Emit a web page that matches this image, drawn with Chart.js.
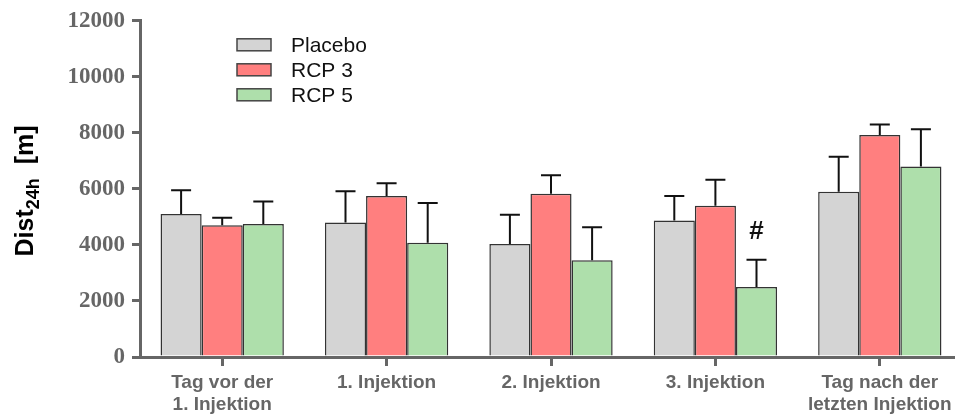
<!DOCTYPE html>
<html lang="de">

<head>
    <meta charset="UTF-8">
    <title>Dist24h</title>
    <script src="https://cdn.jsdelivr.net/npm/chart.js"></script>
    <style>
        body {
            margin: 0;
            overflow: hidden;
            background: #fff;
        }

        .campo_grafico {
            width: 962px;
            height: 419px;
        }
    </style>
</head>

<body>
    <div class="campo_grafico">
        <canvas id="grafico"></canvas>
    </div>

    <script>
        const categorias = [['Tag vor der', '1. Injektion'], '1. Injektion', '2. Injektion', '3. Injektion', ['Tag nach der', 'letzten Injektion']];
        const placebo = [5100, 4800, 4030, 4870, 5900];
        const placeboErro = [850, 1120, 1050, 880, 1250];
        const rcp3 = [4700, 5750, 5830, 5400, 7920];
        const rcp3Erro = [270, 450, 660, 930, 380];
        const rcp5 = [4750, 4080, 3450, 2500, 6800];
        const rcp5Erro = [800, 1420, 1180, 970, 1330];
        const rcp5Marcas = ['', '', '', '#', ''];
        const yMin = 0, yMax = 12000, yPasso = 2000;

        const cinza = '#666666';

        // barras de erro (so para cima) + marca "#"
        const errosPlugin = {
            id: 'erros',
            afterDatasetsDraw(chart) {
                const ctx = chart.ctx;
                const y = chart.scales.y;
                chart.data.datasets.forEach(function (ds, i) {
                    const meta = chart.getDatasetMeta(i);
                    meta.data.forEach(function (barra, j) {
                        const topo = y.getPixelForValue(ds.data[j] + ds.erros[j]);
                        ctx.save();
                        ctx.strokeStyle = '#111';
                        ctx.lineWidth = 2;
                        ctx.beginPath();
                        ctx.moveTo(barra.x, barra.y);
                        ctx.lineTo(barra.x, topo);
                        ctx.moveTo(barra.x - 10, topo);
                        ctx.lineTo(barra.x + 10, topo);
                        ctx.stroke();
                        if (ds.marcas && ds.marcas[j]) {
                            ctx.fillStyle = '#111';
                            ctx.font = 'bold 26px "Liberation Sans", Arial';
                            ctx.textAlign = 'center';
                            ctx.textBaseline = 'middle';
                            ctx.fillText(ds.marcas[j], barra.x, topo - 28);
                        }
                        ctx.restore();
                    });
                });
            }
        };

        // legenda e titulo do eixo y desenhados a mao
        const extrasPlugin = {
            id: 'extras',
            afterDraw(chart) {
                const ctx = chart.ctx;
                const area = chart.chartArea;
                ctx.save();
                chart.data.datasets.forEach(function (ds, i) {
                    const cy = area.top + 24 + i * 25;
                    const bx = area.left + 97;
                    ctx.fillStyle = ds.backgroundColor;
                    ctx.fillRect(bx, cy - 6, 34, 12);
                    ctx.strokeStyle = '#444';
                    ctx.lineWidth = 1.5;
                    ctx.strokeRect(bx, cy - 6, 34, 12);
                    ctx.fillStyle = '#111';
                    ctx.font = '21px "Liberation Sans", Arial';
                    ctx.textAlign = 'left';
                    ctx.textBaseline = 'middle';
                    ctx.fillText(ds.label, bx + 54, cy + 1);
                });

                // Dist_24h [m]
                ctx.translate(24, 191);
                ctx.rotate(-Math.PI / 2);
                ctx.fillStyle = '#000';
                ctx.textBaseline = 'alphabetic';
                ctx.textAlign = 'left';
                const fonteGrande = 'bold 25px "Liberation Sans", Arial';
                const fonteSub = 'bold 18px "Liberation Sans", Arial';
                ctx.font = fonteGrande;
                const w1 = ctx.measureText('Dist').width;
                const w3 = ctx.measureText('  [m]').width;
                ctx.font = fonteSub;
                const w2 = ctx.measureText('24h').width;
                let x = -(w1 + w2 + w3) / 2;
                ctx.font = fonteGrande;
                ctx.fillText('Dist', x, 9);
                x += w1;
                ctx.font = fonteSub;
                ctx.fillText('24h', x, 15);
                x += w2;
                ctx.font = fonteGrande;
                ctx.fillText('  [m]', x, 9);
                ctx.restore();
            }
        };

        const ctx = document.getElementById('grafico');

        new Chart(ctx, {
            type: 'bar',
            data: {
                labels: categorias,
                datasets: [
                    { label: 'Placebo', data: placebo, erros: placeboErro, backgroundColor: '#d4d4d4' },
                    { label: 'RCP 3', data: rcp3, erros: rcp3Erro, backgroundColor: '#ff7f7f' },
                    { label: 'RCP 5', data: rcp5, erros: rcp5Erro, marcas: rcp5Marcas, backgroundColor: '#aedfab' }
                ].map(function (d) {
                    d.borderColor = '#333333';
                    d.borderWidth = 1.5;
                    d.borderSkipped = 'bottom';
                    d.categoryPercentage = 0.75;
                    d.barPercentage = 1;
                    return d;
                })
            },
            options: {
                responsive: true,
                maintainAspectRatio: false,
                animation: false,
                layout: { padding: { top: 20, left: 0, right: 0, bottom: 0 } },
                plugins: {
                    legend: { display: false },
                    tooltip: { enabled: false }
                },
                scales: {
                    x: {
                        grid: {
                            display: true,
                            drawOnChartArea: false,
                            offset: false,
                            color: cinza,
                            lineWidth: 3,
                            tickLength: 9
                        },
                        border: { color: cinza, width: 3 },
                        ticks: {
                            color: cinza,
                            padding: 6,
                            maxRotation: 0,
                            autoSkip: false,
                            font: { family: '"Liberation Sans", Arial', weight: 'bold', size: 19, lineHeight: 1.15 }
                        },
                        afterFit(scale) { scale.height = 62; }
                    },
                    y: {
                        min: yMin,
                        max: yMax,
                        grid: {
                            display: true,
                            drawOnChartArea: false,
                            color: cinza,
                            lineWidth: 3,
                            tickLength: 8
                        },
                        border: { color: cinza, width: 3 },
                        ticks: {
                            stepSize: yPasso,
                            color: cinza,
                            padding: 7,
                            callback: function (valor) { return String(valor); },
                            font: { family: '"Liberation Serif", "Times New Roman", serif', weight: 'bold', size: 23 }
                        },
                        afterFit(scale) { scale.width = 140; }
                    }
                }
            },
            plugins: [errosPlugin, extrasPlugin]
        });
    </script>
</body>

</html>
